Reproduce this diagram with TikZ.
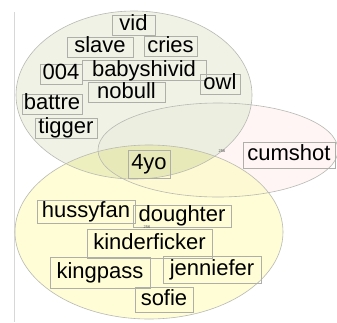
\documentclass[tikz,border=0pt]{standalone}
\usepackage{fontspec}
\newfontfamily\wordfont{Liberation Sans}
\definecolor{gonly}{RGB}{240,242,230}
\definecolor{yonly}{RGB}{254,253,214}
\definecolor{ponly}{RGB}{254,245,244}
\definecolor{gy}{RGB}{238,239,190}
\definecolor{gp}{RGB}{236,238,224}
\definecolor{py}{RGB}{253,249,210}
\definecolor{gpy}{RGB}{232,233,184}
\definecolor{edgegray}{RGB}{185,185,180}
\definecolor{boxgray}{RGB}{175,175,170}
\definecolor{axisgray}{RGB}{215,215,215}
\tikzset{
  word/.style={draw=boxgray, line width=0.6pt, inner xsep=0pt, inner ysep=0pt,
    font=\wordfont\fontsize{22}{24}\selectfont, text height=15.5pt, text depth=4.5pt},
  tinylabel/.style={font=\wordfont\fontsize{4}{4}\selectfont, text=black!70, inner sep=0pt},
  setedge/.style={draw=edgegray, line width=0.6pt}
}
\newcommand\greenset{(134,95) ellipse [x radius=118pt, y radius=84pt]}
\newcommand\pinkset{(218,150) ellipse [x radius=120pt, y radius=47pt]}
\newcommand\yellowset{(149,232) ellipse [x radius=134pt, y radius=87pt]}
\begin{document}
\begin{tikzpicture}[x=1pt,y=-1pt]
\useasboundingbox (0,0) rectangle (337,322);
\fill[white] (0,0) rectangle (337,322);
% axis line
\coordinate (axtop) at (14,12);
\coordinate (axbot) at (14,322);
\draw[axisgray, line width=0.8pt] (axtop) -- (axbot);
% set fills
\fill[gonly] \greenset;
\fill[ponly] \pinkset;
\fill[yonly] \yellowset;
\begin{scope}\clip \greenset; \fill[gp] \pinkset; \end{scope}
\begin{scope}\clip \greenset; \fill[gy] \yellowset; \end{scope}
\begin{scope}\clip \pinkset; \fill[py] \yellowset; \end{scope}
\begin{scope}\clip \greenset; \clip \pinkset; \fill[gpy] \yellowset; \end{scope}
% set outlines
\draw[setedge] \greenset;
\draw[setedge] \pinkset;
\draw[setedge] \yellowset;
% words
\node[word, minimum width=43pt, minimum height=20pt] (vid) at (133.5,25) {vid};
\node[word, minimum width=66pt, minimum height=20pt] (slave) at (100,47) {slave};
\node[word, minimum width=53pt, minimum height=20pt] (cries) at (170.5,46.5) {cries};
\node[word, minimum width=42pt, minimum height=20pt] (n004) at (61,74) {004};
\node[word, minimum width=124pt, minimum height=20pt] (babyshivid) at (144,70.5) {babyshivid};
\node[word, minimum width=40pt, minimum height=19pt] (owl) at (220,84) {owl};
\node[word, minimum width=77pt, minimum height=20pt] (nobull) at (126.5,92.5) {nobull};
\node[word, minimum width=60pt, minimum height=19pt] (battre) at (52,104) {battre};
\node[word, minimum width=62pt, minimum height=20pt] (tigger) at (66,128) {tigger};
\node[word, minimum width=42pt, minimum height=28pt] (fouryo) at (149,164) {4yo};
\node[word, minimum width=92pt, minimum height=26pt] (cumshot) at (289,155) {cumshot};
\node[word, minimum width=98pt, minimum height=23pt] (hussyfan) at (86,211.5) {hussyfan};
\node[word, minimum width=98pt, minimum height=22pt] (doughter) at (182,216) {doughter};
\node[word, minimum width=125pt, minimum height=29pt] (kinderficker) at (149.5,243.5) {kinderficker};
\node[word, minimum width=100pt, minimum height=31pt] (kingpass) at (100,272.5) {kingpass};
\node[word, minimum width=98pt, minimum height=27pt] (jenniefer) at (212,269.5) {jenniefer};
\node[word, minimum width=58pt, minimum height=25pt] (sofie) at (164,299.5) {sofie};
% tiny labels
\node[tinylabel] (t1) at (222,151) {256};
\node[tinylabel, anchor=south] (t2) at (147,228.5) {256};
\end{tikzpicture}
\end{document}
